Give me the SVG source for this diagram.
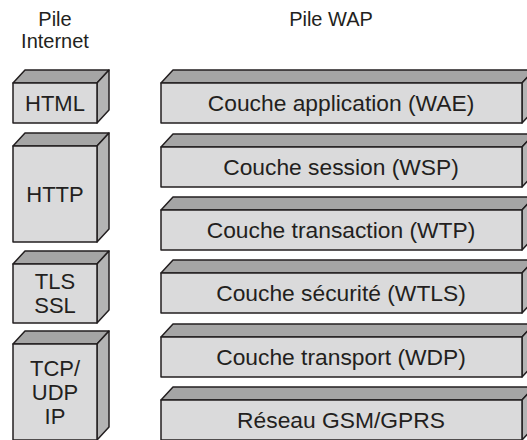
<svg xmlns="http://www.w3.org/2000/svg" width="527" height="440" viewBox="0 0 527 440">
<style>
.front{fill:#dadadb;stroke:#231f20;stroke-width:1.5;stroke-linejoin:round}
.top{fill:#a5a5a5;stroke:#231f20;stroke-width:1.5;stroke-linejoin:round}
.side{fill:#b4b4b4;stroke:#231f20;stroke-width:1.5;stroke-linejoin:round}
text{font-family:"Liberation Sans",Arial,sans-serif;font-size:22px;fill:#231f20;text-anchor:middle}
.hd{font-size:20px}
.w{font-size:22.8px}
</style>
<rect width="527" height="440" fill="#ffffff"/>
<g id="headers">
<text class="hd" x="55" y="26">Pile</text>
<text class="hd" x="55" y="48">Internet</text>
<text class="hd" x="331" y="26">Pile WAP</text>
</g>
<g id="html">
<polygon class="top" points="13,83 25,70 109,70 97,83"/>
<polygon class="side" points="97,83 109,70 109,110 97,123"/>
<rect class="front" x="13" y="83" width="84" height="40"/>
<text x="55" y="111">HTML</text>
</g>
<g id="http">
<polygon class="top" points="13,146 25,133 109,133 97,146"/>
<polygon class="side" points="97,146 109,133 109,229 97,242"/>
<rect class="front" x="13" y="146" width="84" height="96"/>
<text x="55" y="202">HTTP</text>
</g>
<g id="tls">
<polygon class="top" points="13,264 25,251 109,251 97,264"/>
<polygon class="side" points="97,264 109,251 109,310 97,323"/>
<rect class="front" x="13" y="264" width="84" height="59"/>
<text x="55" y="289">TLS</text>
<text x="55" y="313">SSL</text>
</g>
<g id="tcp">
<polygon class="top" points="13,344 25,331 109,331 97,344"/>
<polygon class="side" points="97,344 109,331 109,427 97,440"/>
<rect class="front" x="13" y="344" width="84" height="96"/>
<text x="55" y="376">TCP/</text>
<text x="55" y="400">UDP</text>
<text x="55" y="424">IP</text>
</g>
<g id="wae">
<polygon class="top" points="161,83 173,70 534,70 522,83"/>
<polygon class="side" points="522,83 534,70 534,110 522,123"/>
<rect class="front" x="161" y="83" width="361" height="40"/>
<text class="w" x="341" y="111">Couche application (WAE)</text>
</g>
<g id="wsp">
<polygon class="top" points="161,147 173,134 534,134 522,147"/>
<polygon class="side" points="522,147 534,134 534,174 522,187"/>
<rect class="front" x="161" y="147" width="361" height="40"/>
<text class="w" x="341" y="175">Couche session (WSP)</text>
</g>
<g id="wtp">
<polygon class="top" points="161,210 173,197 534,197 522,210"/>
<polygon class="side" points="522,210 534,197 534,237 522,250"/>
<rect class="front" x="161" y="210" width="361" height="40"/>
<text class="w" x="341" y="238">Couche transaction (WTP)</text>
</g>
<g id="wtls">
<polygon class="top" points="161,273 173,260 534,260 522,273"/>
<polygon class="side" points="522,273 534,260 534,300 522,313"/>
<rect class="front" x="161" y="273" width="361" height="40"/>
<text class="w" x="341" y="301">Couche sécurité (WTLS)</text>
</g>
<g id="wdp">
<polygon class="top" points="161,337 173,324 534,324 522,337"/>
<polygon class="side" points="522,337 534,324 534,364 522,377"/>
<rect class="front" x="161" y="337" width="361" height="40"/>
<text class="w" x="341" y="365">Couche transport (WDP)</text>
</g>
<g id="gsm">
<polygon class="top" points="161,400 173,387 534,387 522,400"/>
<polygon class="side" points="522,400 534,387 534,427 522,440"/>
<rect class="front" x="161" y="400" width="361" height="40"/>
<text class="w" x="341" y="428">Réseau GSM/GPRS</text>
</g>
<g id="connectors"/>
</svg>
